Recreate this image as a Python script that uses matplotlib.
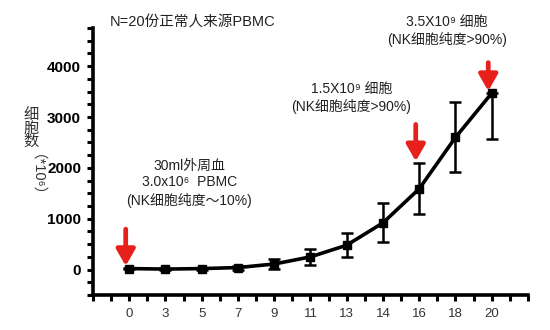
import numpy as np
import matplotlib
matplotlib.use("Agg")
import matplotlib.pyplot as plt
from matplotlib.ticker import MultipleLocator
from matplotlib.transforms import offset_copy

plt.rcParams['font.family'] = ['Liberation Sans', 'Noto Sans CJK SC', 'DejaVu Sans']

days = ["0", "3", "5", "7", "9", "11", "13", "14", "16", "18", "20"]
cells = [20, 10, 20, 40, 110, 250, 480, 920, 1590, 2600, 3470]
err_up = [10, 20, 20, 40, 100, 150, 240, 380, 500, 690, 0]
err_down = [10, 20, 20, 40, 100, 150, 240, 380, 500, 690, 900]
arrow_days = ["0", "16", "20"]
arrow_len = [28, 28, 22]

x = np.arange(len(days))

fig = plt.figure(figsize=(5.5, 3.3), dpi=100)
ax = fig.add_axes([0.169, 0.106, 0.791, 0.809])

ax.plot(x, cells, color="black", lw=2.6, zorder=3)
ax.errorbar(x, cells, yerr=[err_down, err_up], fmt="s", color="black", ms=6,
            elinewidth=1.8, capsize=4.5, capthick=1.8, zorder=4)

# red arrows
tr = offset_copy(ax.transData, fig=fig, x=-3.5, y=0, units="dots")
for d, L in zip(arrow_days, arrow_len):
    i = days.index(d)
    top = cells[i] + err_up[i]
    ax.annotate("", xy=(i, top), xycoords=tr, xytext=(0, L), textcoords="offset points",
                arrowprops=dict(arrowstyle="-|>,head_length=0.7,head_width=0.4",
                                color="#e8201c", lw=3.4, mutation_scale=14,
                                shrinkA=0, shrinkB=1.5), zorder=5)

txt = dict(ha="center", va="center", fontsize=10, color="#222222", linespacing=1.25)
ax.text(1.66, 1700, "30ml外周血\n3.0x10⁶  PBMC\n(NK细胞纯度～10%)", **txt)
ax.text(6.13, 3370, "1.5X10⁹ 细胞\n(NK细胞纯度>90%)", clip_on=False, **txt)
ax.text(8.76, 4700, "3.5X10⁹ 细胞\n(NK细胞纯度>90%)", clip_on=False, **txt)
fig.text(0.2, 0.933, "N=20份正常人来源PBMC", fontsize=10.5, color="#222222", va="center")

# y label: stacked characters + rotated unit
fig.text(0.056, 0.61, "细\n胞\n数", ha="center", va="center", fontsize=11,
         color="#333333", linespacing=0.95)
fig.text(0.053, 0.446, "（*10⁶）", ha="center", va="center", fontsize=10.5,
         color="#333333", rotation=270)

ax.set_xlim(-1, 11)
ax.set_ylim(-500, 4750)
ax.set_xticks(x)
ax.set_xticklabels(days)
ax.xaxis.set_minor_locator(MultipleLocator(0.5))
ax.set_yticks([0, 1000, 2000, 3000, 4000])
ax.yaxis.set_minor_locator(MultipleLocator(250))

for s in ["top", "right"]:
    ax.spines[s].set_visible(False)
for s in ["left", "bottom"]:
    ax.spines[s].set_linewidth(2.6)

ax.tick_params(which="both", direction="out", length=4.5, width=2.2, color="black")
ax.tick_params(axis="x", labelsize=9.5, labelcolor="#333333", pad=5)
ax.tick_params(axis="y", labelsize=11, pad=4)
for lab in ax.get_yticklabels():
    lab.set_fontweight("bold")

fig.savefig("out.png", dpi=100)
